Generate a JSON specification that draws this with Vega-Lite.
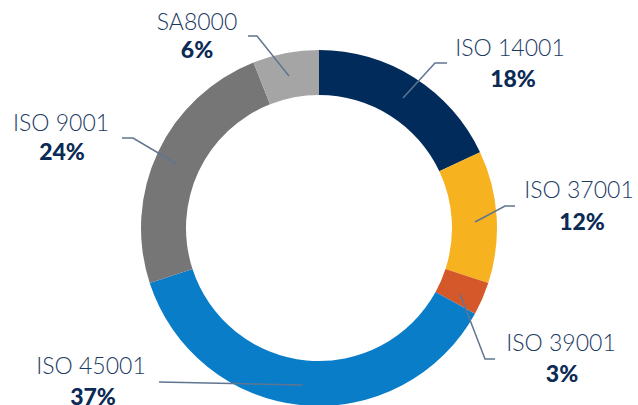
{
  "$schema": "https://vega.github.io/schema/vega-lite/v6.json",
  "width": 638,
  "height": 405,
  "autosize": {"type": "none"},
  "padding": 0,
  "background": "white",
  "config": {"view": {"stroke": null}},
  "datasets": {
    "shares": [
      {"cert": "ISO 14001", "share": 0.18},
      {"cert": "ISO 37001", "share": 0.12},
      {"cert": "ISO 39001", "share": 0.03},
      {"cert": "ISO 45001", "share": 0.37},
      {"cert": "ISO 9001", "share": 0.24},
      {"cert": "SA8000", "share": 0.06}
    ],
    "callouts": [
      {"cert": "ISO 14001", "nx": 191, "ny": 179, "px": 194, "py": 148},
      {"cert": "ISO 37001", "nx": 260, "ny": 37, "px": 263, "py": 5},
      {"cert": "ISO 39001", "nx": 242, "ny": -116, "px": 243, "py": -147},
      {"cert": "ISO 45001", "nx": -228, "ny": -139, "px": -226, "py": -170},
      {"cert": "ISO 9001", "nx": -258, "ny": 104, "px": -257, "py": 75},
      {"cert": "SA8000", "nx": -122, "ny": 205, "px": -122, "py": 177}
    ],
    "leaders": [
      {"cert": "SA8000", "k": 1, "lx": -71, "ly": 192},
      {"cert": "SA8000", "k": 2, "lx": -62, "ly": 192},
      {"cert": "SA8000", "k": 3, "lx": -30, "ly": 152},
      {"cert": "ISO 14001", "k": 1, "lx": 128, "ly": 165},
      {"cert": "ISO 14001", "k": 2, "lx": 116, "ly": 165},
      {"cert": "ISO 14001", "k": 3, "lx": 84, "ly": 130},
      {"cert": "ISO 37001", "k": 1, "lx": 196, "ly": 22},
      {"cert": "ISO 37001", "k": 2, "lx": 186, "ly": 22},
      {"cert": "ISO 37001", "k": 3, "lx": 156, "ly": 6},
      {"cert": "ISO 39001", "k": 1, "lx": 176, "ly": -131},
      {"cert": "ISO 39001", "k": 2, "lx": 166, "ly": -131},
      {"cert": "ISO 39001", "k": 3, "lx": 141, "ly": -66},
      {"cert": "ISO 9001", "k": 1, "lx": -197, "ly": 90},
      {"cert": "ISO 9001", "k": 2, "lx": -186, "ly": 90},
      {"cert": "ISO 9001", "k": 3, "lx": -142, "ly": 64},
      {"cert": "ISO 45001", "k": 1, "lx": -160, "ly": -154},
      {"cert": "ISO 45001", "k": 2, "lx": -16, "ly": -157}
    ]
  },
  "layer": [
    {
      "data": {"name": "shares"},
      "mark": {"type": "arc", "innerRadius": 133, "outerRadius": 178},
      "encoding": {
        "x": {"datum": 0, "type": "quantitative", "scale": {"domain": [-319, 319], "nice": false, "zero": false}, "axis": null},
        "y": {"datum": 0, "type": "quantitative", "scale": {"domain": [-177, 228], "nice": false, "zero": false}, "axis": null},
        "theta": {"field": "share", "type": "quantitative", "stack": true},
        "order": {"field": "cert", "sort": "ascending"},
        "color": {
          "field": "cert",
          "type": "nominal",
          "scale": {
            "domain": ["ISO 14001", "ISO 37001", "ISO 39001", "ISO 45001", "ISO 9001", "SA8000"],
            "range": ["#012b5a", "#f7b21f", "#d4582a", "#0a7dc8", "#767676", "#a5a5a5"]
          },
          "legend": null
        }
      }
    },
    {
      "data": {"name": "leaders"},
      "mark": {"type": "line", "color": "#5f7591", "strokeWidth": 1.5},
      "encoding": {
        "x": {"field": "lx", "type": "quantitative"},
        "y": {"field": "ly", "type": "quantitative"},
        "detail": {"field": "cert"},
        "order": {"field": "k", "type": "quantitative"}
      }
    },
    {
      "data": {"name": "shares"},
      "transform": [{"lookup": "cert", "from": {"data": {"name": "callouts"}, "key": "cert", "fields": ["nx", "ny", "px", "py"]}}],
      "mark": {"type": "text", "font": "Lato", "fontWeight": 300, "fontSize": 23, "color": "#1b3a63", "align": "center", "baseline": "middle"},
      "encoding": {
        "x": {"field": "nx", "type": "quantitative"},
        "y": {"field": "ny", "type": "quantitative"},
        "text": {"field": "cert"}
      }
    },
    {
      "data": {"name": "shares"},
      "transform": [{"lookup": "cert", "from": {"data": {"name": "callouts"}, "key": "cert", "fields": ["nx", "ny", "px", "py"]}}],
      "mark": {"type": "text", "font": "Lato", "fontWeight": 900, "fontSize": 23, "color": "#0b2a55", "align": "center", "baseline": "middle"},
      "encoding": {
        "x": {"field": "px", "type": "quantitative"},
        "y": {"field": "py", "type": "quantitative"},
        "text": {"field": "share", "type": "quantitative", "format": ".0%"}
      }
    }
  ]
}
